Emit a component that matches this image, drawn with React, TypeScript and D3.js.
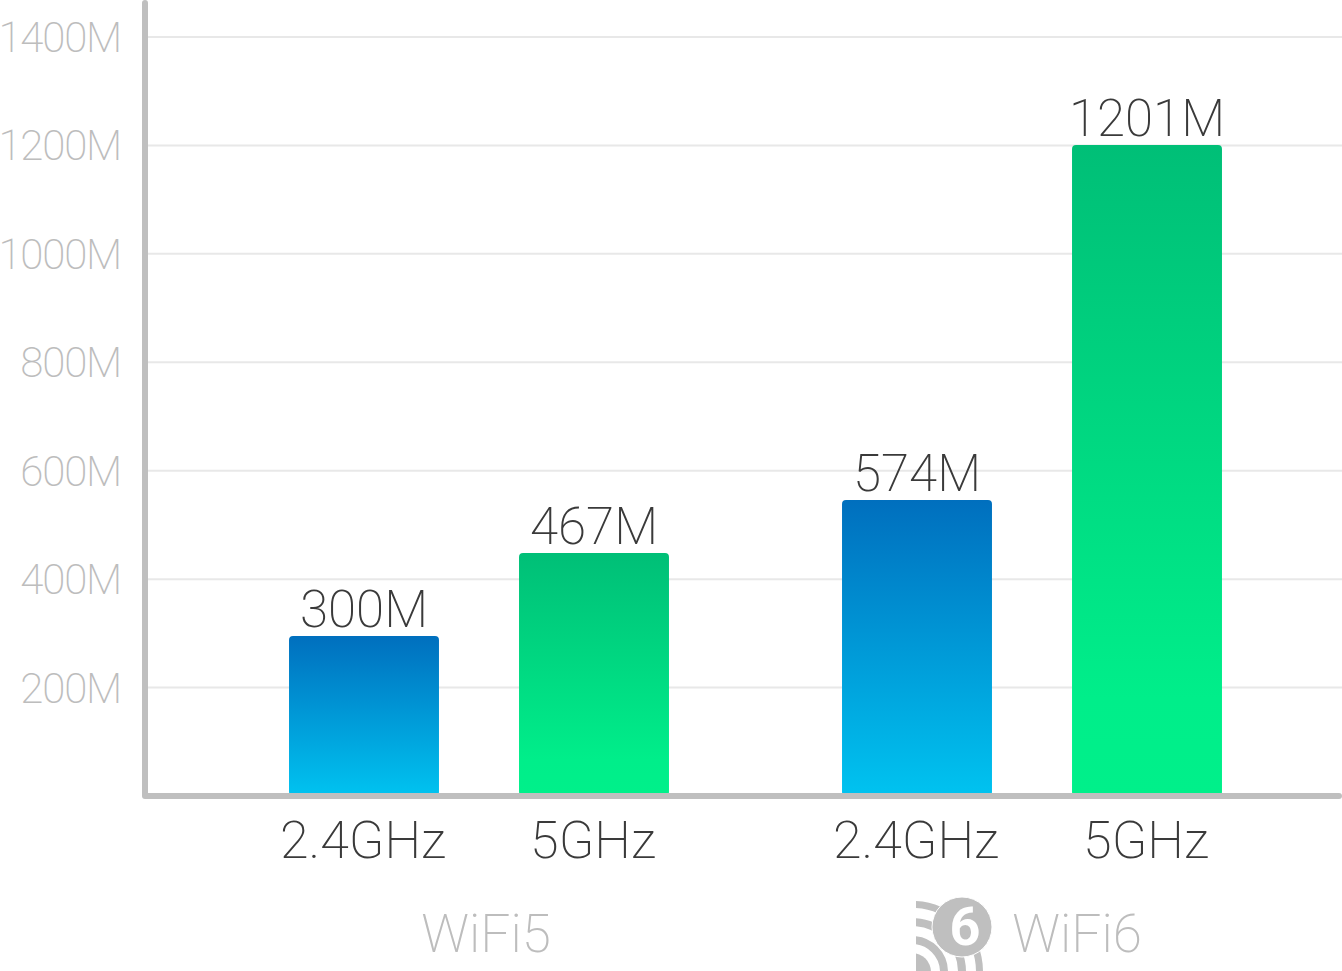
import * as d3 from 'd3';

const width = 1342;
const height = 971;
const axisColor = "#bfbfbf";
const font = "Roboto, sans-serif";

const groups = ["WiFi5", "WiFi6"];
const bands = ["2.4GHz", "5GHz"];
// drawn heights are not quite what the labels say, so both are kept
const barValues = [[295, 448], [546, 1201]];
const barLabels = [["300M", "467M"], ["574M", "1201M"]];
const gradients = ["blue", "green"];

const y = d3.scaleLinear([0, 1400], [796, 37]);
const x0 = d3.scaleBand(groups, [202.5, 1308.5]);
const x1 = d3.scaleBand(bands, [46.5, 506.5]).paddingInner(0.348).paddingOuter(0.174);

const App = () => {
    return (
        <svg width={width} height={height} style={{ position: "absolute", left: 0, top: 0 }} fontFamily={font} fontWeight={200}>
            <defs>
                <linearGradient id="blue" x1="0" x2="0" y1="0" y2="1">
                    <stop offset="0" stopColor="#006fbe" />
                    <stop offset="1" stopColor="#00c3f0" />
                </linearGradient>
                <linearGradient id="green" x1="0" x2="0" y1="0" y2="1">
                    <stop offset="0" stopColor="#00bf77" />
                    <stop offset="0.85" stopColor="#00ee8a" />
                    <stop offset="1" stopColor="#00f08a" />
                </linearGradient>
                <clipPath id="icon">
                    <rect x={916} y={890} width={90} height={81} />
                </clipPath>
            </defs>

            {y.ticks(7).filter(t => t > 0).map(t => (
                <g key={t}>
                    <line x1={148} x2={width} y1={y(t)} y2={y(t)} stroke="#e8e8e8" strokeWidth={2} />
                    <text x={121} y={y(t) + 15} textAnchor="end" fontSize={42} letterSpacing={-1.2} fill="#bdbdbd">{t}M</text>
                </g>
            ))}

            {groups.map((g, i) => (
                <g key={g} transform={`translate(${x0(g)},0)`}>
                    {bands.map((b, j) => {
                        const left = x1(b) as number;
                        const mid = left + x1.bandwidth() / 2;
                        return (
                            <g key={b}>
                                <rect
                                    x={left}
                                    y={y(barValues[i][j])}
                                    width={x1.bandwidth()}
                                    height={y(0) - y(barValues[i][j])}
                                    rx={4}
                                    fill={`url(#${gradients[j]})`}
                                />
                                <text x={mid} y={y(barValues[i][j]) - 9} textAnchor="middle" fontSize={51} fill="#3a3a3a">
                                    {barLabels[i][j]}
                                </text>
                                <text x={mid - 1} y={858} textAnchor="middle" fontSize={52} fill="#3a3a3a">{b}</text>
                            </g>
                        );
                    })}
                </g>
            ))}

            <path d={`M145,3V796H1339`} fill="none" stroke={axisColor} strokeWidth={6} strokeLinecap="round" strokeLinejoin="round" />

            <text x={486} y={952} textAnchor="middle" fontSize={53} fill="#bdbdbd">{groups[0]}</text>
            <text x={1077} y={952} textAnchor="middle" fontSize={53} fill="#bdbdbd">{groups[1]}</text>

            <g clipPath="url(#icon)" fill="none" stroke={axisColor}>
                <circle cx={912} cy={972} r={19} fill={axisColor} stroke="none" />
                <circle cx={912} cy={972} r={32} strokeWidth={8} />
                <circle cx={912} cy={972} r={50} strokeWidth={8} />
                <circle cx={912} cy={972} r={67.5} strokeWidth={7} />
                <circle cx={962} cy={927} r={30} fill={axisColor} stroke="#fff" strokeWidth={1} />
            </g>
            <text x={965} y={945} textAnchor="middle" fontSize={54} fontWeight={700} fill="#fff">6</text>
        </svg>
    );
};

export default App;
